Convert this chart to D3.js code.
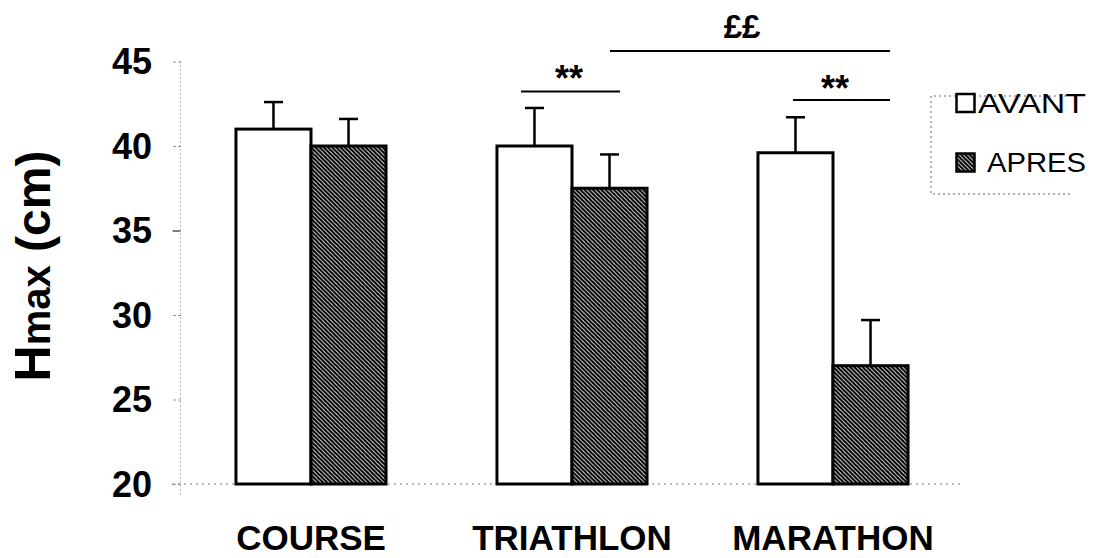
<!DOCTYPE html>
<html>
<head>
<meta charset="utf-8">
<script src="https://cdn.jsdelivr.net/npm/d3@7"></script>
<style>
  html, body { margin: 0; padding: 0; background: #fff; }
  svg { display: block; font-family: "Liberation Sans", Arial, sans-serif; }
</style>
</head>
<body>
<svg id="chart" width="1098" height="558"></svg>
<script>
// ---- data ----
const categories = ["COURSE", "TRIATHLON", "MARATHON"];
const seriesNames = ["AVANT", "APRES"];
const avantValues = [41.0, 40.0, 39.6];
const apresValues = [40.0, 37.5, 27.0];
const avantErrors = [1.6, 2.25, 2.1];
const apresErrors = [1.6, 2.0, 2.7];
const yTicks = [20, 25, 30, 35, 40, 45];
const yDomain = [20, 45];

const svg = d3.select("#chart");

// pattern
const P = 4.2;
const defs = svg.append("defs");
const pat = defs.append("pattern")
  .attr("id", "hatch").attr("patternUnits", "userSpaceOnUse")
  .attr("width", P).attr("height", P);
pat.append("rect").attr("width", P).attr("height", P).attr("fill", "#fff");
pat.append("path")
  .attr("d", `M0,0 L${P},${P} M${-P/4},${3*P/4} L${P/4},${5*P/4} M${3*P/4},${-P/4} L${5*P/4},${P/4}`)
  .attr("stroke", "#000").attr("stroke-width", 2.2);

// scales
const x = d3.scaleBand().domain(categories).range([180.5, 963.5])
  .paddingInner(0.425).paddingOuter(0.2125);
const xs = d3.scaleBand().domain(seriesNames).range([0, x.bandwidth()]);
const y = d3.scaleLinear().domain(yDomain).range([484, 61.5]);

// y axis (dotted)
const yAxis = d3.axisLeft(y).tickValues(yTicks).tickSize(8).tickFormat("");
const ga = svg.append("g").attr("transform", "translate(180.5,0)").call(yAxis);
ga.select(".domain").attr("stroke", "#777").attr("stroke-dasharray", "1,3")
  .attr("d", `M0,${y(45)}V${y(20) + 12}`);
ga.selectAll(".tick line").attr("stroke", "#666").attr("stroke-dasharray", "2,3");
ga.selectAll(".tick").filter(d => d === 35).select("line").attr("stroke", "#000").attr("stroke-dasharray", null);

// tick labels
svg.append("g").selectAll("text").data(yTicks).join("text")
  .attr("x", 152).attr("y", d => y(d)).attr("dy", "0.36em")
  .attr("text-anchor", "end").attr("font-size", 36).attr("font-weight", "bold")
  .text(d => d);

// baseline dotted
svg.append("line").attr("x1", 172).attr("x2", 962)
  .attr("y1", y(20)).attr("y2", y(20))
  .attr("stroke", "#777").attr("stroke-dasharray", "2,4");

// bars
const rows = categories.map((c, i) => [
  { cat: c, s: "AVANT", v: avantValues[i], e: avantErrors[i] },
  { cat: c, s: "APRES", v: apresValues[i], e: apresErrors[i] }
]).flat();

const bars = svg.append("g");
// error bars
bars.selectAll("g.err").data(rows).join("g").attr("class", "err").each(function (d) {
  const g = d3.select(this);
  const cx = x(d.cat) + xs(d.s) + xs.bandwidth() / 2;
  g.append("line").attr("x1", cx).attr("x2", cx)
    .attr("y1", y(d.v)).attr("y2", y(d.v + d.e))
    .attr("stroke", "#000").attr("stroke-width", 2.5);
  g.append("line").attr("x1", cx - 9.5).attr("x2", cx + 9.5)
    .attr("y1", y(d.v + d.e)).attr("y2", y(d.v + d.e))
    .attr("stroke", "#000").attr("stroke-width", 2.5);
});
bars.selectAll("rect").data(rows).join("rect")
  .attr("x", d => x(d.cat) + xs(d.s))
  .attr("width", xs.bandwidth())
  .attr("y", d => y(d.v))
  .attr("height", d => y(20) - y(d.v))
  .attr("fill", d => d.s === "AVANT" ? "#fff" : "url(#hatch)")
  .attr("stroke", "#000").attr("stroke-width", 3);

// category labels
svg.append("g").selectAll("text").data(categories).join("text")
  .attr("x", d => x(d) + x.bandwidth() / 2).attr("y", 550)
  .attr("text-anchor", "middle").attr("font-size", 35).attr("font-weight", "bold")
  .text(d => d);

// y title
const yt = svg.append("text")
  .attr("transform", `translate(50,266) rotate(-90)`)
  .attr("text-anchor", "middle").attr("font-weight", "bold");
yt.append("tspan").attr("font-size", 50).text("H");
yt.append("tspan").attr("font-size", 40).text("max");
yt.append("tspan").attr("font-size", 48).text(" (cm)");

// significance annotations (in data space / band fractions)
const sigLines = [
  { c1: "TRIATHLON", f1: 0.16, c2: "TRIATHLON", f2: 0.82, v: 43.22 },
  { c1: "MARATHON", f1: 0.233, c2: "MARATHON", f2: 0.88, v: 42.72 },
  { c1: "TRIATHLON", f1: 0.753, c2: "MARATHON", f2: 0.88, v: 45.62 }
];
const sigLabels = ["**", "**", "££"];
const sg = svg.append("g");
sigLines.forEach(s => {
  sg.append("line")
    .attr("x1", x(s.c1) + s.f1 * x.bandwidth())
    .attr("x2", x(s.c2) + s.f2 * x.bandwidth())
    .attr("y1", y(s.v)).attr("y2", y(s.v))
    .attr("stroke", "#000").attr("stroke-width", 2);
});
sg.append("text").attr("x", x("TRIATHLON") + 0.48 * x.bandwidth()).attr("y", 91)
  .attr("text-anchor", "middle").attr("font-size", 36).attr("font-weight", "bold").text(sigLabels[0]);
sg.append("text").attr("x", x("MARATHON") + 0.513 * x.bandwidth()).attr("y", 101)
  .attr("text-anchor", "middle").attr("font-size", 36).attr("font-weight", "bold").text(sigLabels[1]);
sg.append("text").attr("x", 742).attr("y", 38)
  .attr("text-anchor", "middle").attr("font-size", 33).attr("font-weight", "bold").text(sigLabels[2]);

// legend
const lg = svg.append("g");
lg.append("path").attr("d", "M1066,96 H931 V194 H1070")
  .attr("fill", "none").attr("stroke", "#666").attr("stroke-dasharray", "2,3");
const legendRows = seriesNames.map((s, i) => ({ s, i }));
lg.selectAll("rect").data(legendRows).join("rect")
  .attr("x", 956.5).attr("y", d => d.i === 0 ? 94 : 153.5)
  .attr("width", 18).attr("height", 18)
  .attr("fill", d => d.s === "AVANT" ? "#fff" : "url(#hatch)")
  .attr("stroke", "#000").attr("stroke-width", 2.5);
lg.selectAll("text").data(legendRows).join("text")
  .attr("x", d => d.i === 0 ? 978 : 987).attr("y", d => d.i === 0 ? 113 : 172)
  .attr("font-size", 28)
  .attr("textLength", d => d.i === 0 ? 108 : 99).attr("lengthAdjust", "spacingAndGlyphs")
  .text(d => d.s);
</script>
</body>
</html>
